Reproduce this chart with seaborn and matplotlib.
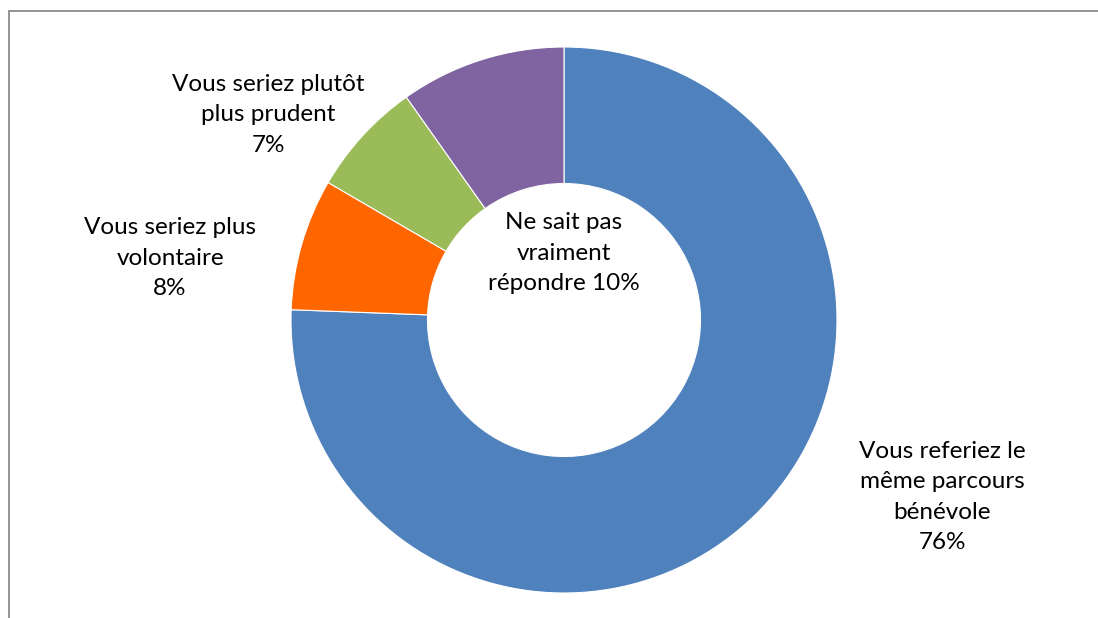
import matplotlib
matplotlib.use("Agg")
import matplotlib.pyplot as plt
from matplotlib.lines import Line2D
import seaborn as sns

# Données du graphique
categories = ["Vous referiez le\nmême parcours\nbénévole",
              "Vous seriez plus\nvolontaire",
              "Vous seriez plutôt\nplus prudent",
              "Ne sait pas\nvraiment\nrépondre"]
valeurs = [75.6, 7.8, 6.8, 9.8]
couleurs = ["#4F81BD", "#FF6600", "#9BBB59", "#8064A2"]

sns.set_theme(style="white")
plt.rcParams['font.family'] = ['Lato', 'DejaVu Sans']

fig = plt.figure(figsize=(10.98, 6.18), dpi=100)
fig.patch.set_facecolor("white")

# Axe carré centré sur l'anneau
ax = fig.add_axes([291 / 1098, 25 / 618, 546 / 1098, 546 / 618])
palette = sns.color_palette(couleurs)
ax.pie(valeurs, colors=palette, startangle=90, counterclock=False,
       radius=1.0, wedgeprops=dict(width=0.5, edgecolor="white", linewidth=0.8))
ax.set_xlim(-1, 1)
ax.set_ylim(-1, 1)
ax.set_aspect("equal")
ax.axis("off")

# Étiquettes
positions = [(1.385, -0.648), (-1.443, 0.227), (-1.084, 0.751), (0.0, 0.245)]
for i, (cat, v) in enumerate(zip(categories, valeurs)):
    if i == 3:
        txt = cat + f" {v:.0f}%"
    else:
        txt = cat + f"\n{v:.0f}%"
    x, y = positions[i]
    ax.text(x, y, txt, ha="center", va="center", fontsize=17.5,
            color="black", linespacing=1.55)

# Cadre gris (haut et gauche visibles)
fig.add_artist(Line2D([8.5 / 1098, 1.0], [1 - 10.5 / 618, 1 - 10.5 / 618],
                      transform=fig.transFigure, color="#8c8c8c", linewidth=1.3))
fig.add_artist(Line2D([8.5 / 1098, 8.5 / 1098], [0.0, 1 - 10.5 / 618],
                      transform=fig.transFigure, color="#8c8c8c", linewidth=1.3))

fig.savefig("out.png", dpi=100)
